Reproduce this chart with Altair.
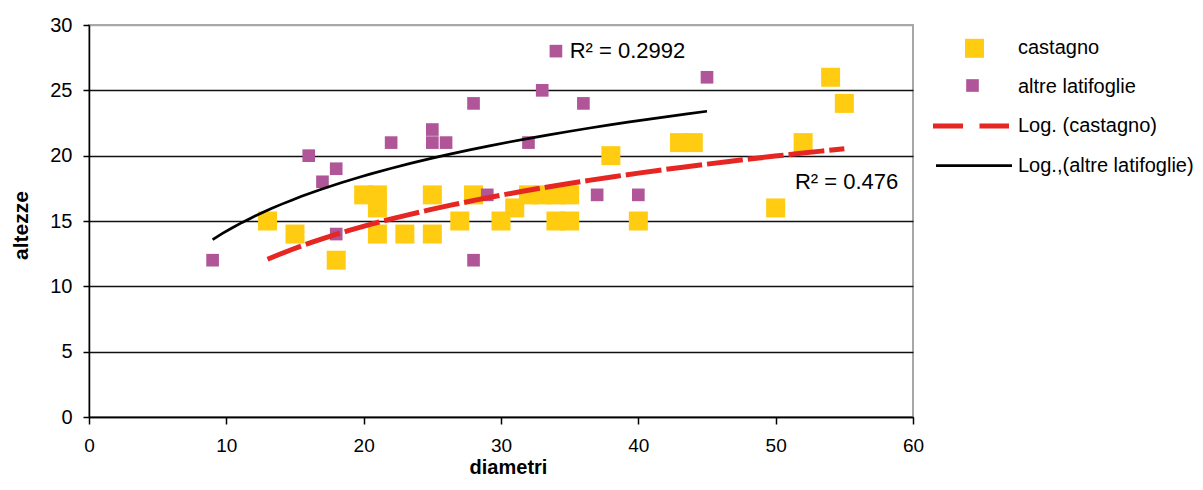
import altair as alt
import pandas as pd

# ---- data ----
cast_d = [13, 15, 18, 20, 21, 21, 21, 23, 25, 25, 27, 28, 30, 31, 32, 33, 34, 35, 34, 35, 38, 40, 43, 44, 50, 52, 54, 55]
cast_h = [15, 14, 12, 17, 17, 16, 14, 14, 14, 17, 15, 17, 15, 16, 17, 17, 17, 17, 15, 15, 20, 15, 21, 21, 16, 21, 26, 24]
altre_d = [9, 16, 17, 18, 18, 22, 25, 25, 26, 28, 28, 29, 32, 33, 34, 36, 37, 40, 45]
altre_h = [12, 20, 18, 19, 14, 21, 22, 21, 21, 24, 12, 17, 21, 25, 28, 24, 17, 17, 26]

legend_labels = ["castagno", "altre latifoglie", "Log. (castagno)", "Log.,(altre latifoglie)"]
r2_text = ["R² = 0.2992", "R² = 0.476"]
r2_x = [35.0, 51.4]
r2_y = [28.0, 18.0]

x_ticks = [0, 10, 20, 30, 40, 50, 60]
y_ticks = [0, 5, 10, 15, 20, 25, 30]

YELLOW = "#FFCC11"
PURPLE = "#B05598"
RED = "#E52622"
FONT = "Liberation Sans"

df_c = pd.DataFrame({"d": cast_d, "h": cast_h})
df_a = pd.DataFrame({"d": altre_d, "h": altre_h})
df_r2 = pd.DataFrame({"t": r2_text, "d": r2_x, "h": r2_y})

W, H = 824, 392

xenc = alt.X(
    "d:Q",
    scale=alt.Scale(domain=[0, 60], nice=False, zero=False),
    axis=alt.Axis(
        values=x_ticks, grid=False, title="diametri",
        titleFont=FONT, titleFontSize=20, titleFontWeight="bold", titleColor="black",
        titleX=419, titleY=56, titleAlign="center", titleBaseline="alphabetic", titleAnchor="start",
        labelFont=FONT, labelFontSize=19, labelColor="black", labelPadding=12,
        tickSize=7, tickColor="black", tickWidth=1.5,
        domainColor="black", domainWidth=1.5, labelFlush=False,
    ),
)
yenc = alt.Y(
    "h:Q",
    scale=alt.Scale(domain=[0, 30], nice=False, zero=False),
    axis=alt.Axis(
        values=y_ticks, grid=True,
        gridColor=alt.condition("datum.value >= 30", alt.value("#a8a8a8"), alt.value("#111111")),
        gridWidth=1.6,
        title="altezze",
        titleFont=FONT, titleFontSize=21, titleFontWeight="bold", titleColor="black",
        titleAngle=270, titleX=-62, titleY=200, titleAlign="center", titleBaseline="alphabetic",
        titleAnchor="start",
        labelFont=FONT, labelFontSize=20, labelColor="black", labelPadding=11,
        tickSize=6, tickColor="black", tickWidth=1.5,
        domainColor="black", domainWidth=1.5, labelFlush=False,
    ),
)

pts_c = alt.Chart(df_c).mark_square(size=361, color=YELLOW, opacity=1).encode(x=xenc, y=yenc)
pts_a = alt.Chart(df_a).mark_square(size=160, color=PURPLE, opacity=1).encode(x="d:Q", y="h:Q")

reg_c = (
    alt.Chart(df_c)
    .transform_regression("d", "h", method="log")
    .mark_line(color=RED, strokeWidth=5, strokeDash=[36, 5])
    .encode(x="d:Q", y="h:Q")
)
reg_a = (
    alt.Chart(df_a)
    .transform_regression("d", "h", method="log")
    .mark_line(color="black", strokeWidth=2.7)
    .encode(x="d:Q", y="h:Q")
)

r2 = alt.Chart(df_r2).mark_text(
    font=FONT, fontSize=22, color="black", align="left", baseline="middle"
).encode(x="d:Q", y="h:Q", text="t:N")

# ---- legend (drawn to the right of the plot area) ----
def one(label):
    return pd.DataFrame({"label": [label]})

leg_c = alt.Chart(one(legend_labels[0])).mark_square(size=361, color=YELLOW, opacity=1).encode(
    x=alt.value(885.5), y=alt.value(23.3))
leg_a = alt.Chart(one(legend_labels[1])).mark_square(size=160, color=PURPLE, opacity=1).encode(
    x=alt.value(883.5), y=alt.value(60.5))
leg_rc = alt.Chart(one(legend_labels[2])).mark_rule(color=RED, strokeWidth=5, strokeDash=[30, 16.5]).encode(
    x=alt.value(844), x2=alt.value(920), y=alt.value(101))
leg_ra = alt.Chart(one(legend_labels[3])).mark_rule(color="black", strokeWidth=2.7).encode(
    x=alt.value(847), x2=alt.value(923), y=alt.value(140.7))

leg_texts = []
for i, lab in enumerate(legend_labels):
    leg_texts.append(
        alt.Chart(one(lab)).mark_text(
            font=FONT, fontSize=20, color="black", align="left", baseline="alphabetic"
        ).encode(x=alt.value(929), y=alt.value(28.5 + i * 39.4), text="label:N")
    )

chart = (
    alt.layer(pts_c, pts_a, reg_c, reg_a, r2, leg_c, leg_a, leg_rc, leg_ra, *leg_texts)
    .properties(
        width=W, height=H,
        autosize=alt.AutoSizeParams(type="none"),
        padding={"left": 81, "top": 17, "right": 282, "bottom": 60},
        background="white",
    )
    .configure_view(stroke="#a8a8a8", strokeWidth=2)
)

chart.save("out.html", embed_options={"renderer": "svg", "actions": False})
